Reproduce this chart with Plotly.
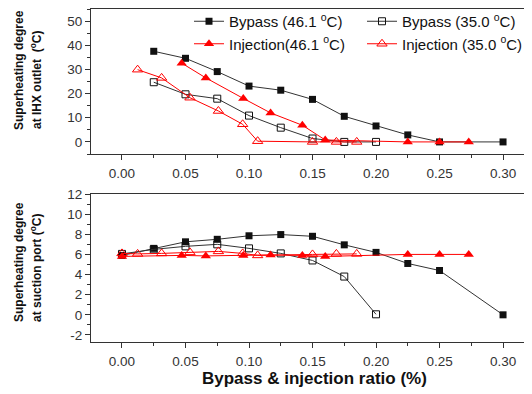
import plotly.graph_objects as go

# ---- data ----
bp46_x_top = [0.025, 0.05, 0.075, 0.10, 0.125, 0.15, 0.175, 0.20, 0.225, 0.25, 0.30]
bp46_y_top = [37.5, 34.6, 29.1, 23.1, 21.4, 17.6, 10.6, 6.6, 2.9, 0.0, 0.0]
bp35_x_top = [0.025, 0.05, 0.075, 0.10, 0.125, 0.15, 0.175, 0.20]
bp35_y_top = [24.7, 19.7, 17.9, 10.9, 5.9, 1.4, 0.0, 0.0]
inj46_x_top = [0.047, 0.066, 0.0955, 0.117, 0.142, 0.160, 0.225, 0.25, 0.273]
inj46_y_top = [32.6, 26.5, 18.0, 12.0, 6.9, 0.8, 0.0, 0.0, 0.0]
inj35_x_top = [0.0123, 0.0312, 0.0535, 0.0759, 0.095, 0.1068, 0.15, 0.1688, 0.1848]
inj35_y_top = [29.9, 26.5, 18.3, 12.8, 7.3, 0.3, 0.0, 0.0, 0.0]

bp46_x_bot = [0.0, 0.025, 0.05, 0.075, 0.10, 0.125, 0.15, 0.175, 0.20, 0.225, 0.25, 0.30]
bp46_y_bot = [5.9, 6.6, 7.25, 7.5, 7.85, 7.97, 7.8, 6.95, 6.2, 5.1, 4.4, 0.0]
bp35_x_bot = [0.0, 0.025, 0.05, 0.075, 0.10, 0.125, 0.15, 0.175, 0.20]
bp35_y_bot = [6.05, 6.5, 6.8, 7.0, 6.6, 6.1, 5.4, 3.8, 0.05]
inj46_x_bot = [0.0, 0.047, 0.066, 0.0955, 0.117, 0.142, 0.160, 0.225, 0.25, 0.273]
inj46_y_bot = [5.8, 5.9, 5.85, 5.9, 5.95, 5.9, 5.8, 6.0, 6.0, 6.0]
inj35_x_bot = [0.0, 0.0123, 0.0312, 0.0535, 0.0759, 0.095, 0.1068, 0.15, 0.1688, 0.1848]
inj35_y_bot = [6.1, 6.05, 6.1, 6.2, 6.3, 6.1, 5.9, 6.0, 6.05, 6.05]

names = ["Bypass (46.1 <sup>o</sup>C)", "Bypass (35.0 <sup>o</sup>C)",
         "Injection(46.1 <sup>o</sup>C)", "Injection (35.0 <sup>o</sup>C)"]
x_ticks = [0.0, 0.05, 0.10, 0.15, 0.20, 0.25, 0.30]
x_ticktext = ["0.00", "0.05", "0.10", "0.15", "0.20", "0.25", "0.30"]
top_yticks = [0, 10, 20, 30, 40, 50]
bot_yticks = [-2, 0, 2, 4, 6, 8, 10, 12]

BLACK = "#111111"
LINE_BLACK = "#333333"
RED = "#ff0000"
FONT = "Arial, Liberation Sans, sans-serif"

styles = [
    dict(line=dict(color=LINE_BLACK, width=1), marker=dict(symbol="square", size=7, color=BLACK)),
    dict(line=dict(color=LINE_BLACK, width=1), marker=dict(symbol="square-open", size=7, color=BLACK, line=dict(width=1))),
    dict(line=dict(color=RED, width=1), marker=dict(symbol="triangle-up", size=9, color=RED)),
    dict(line=dict(color=RED, width=1), marker=dict(symbol="triangle-up-open", size=9, color=RED, line=dict(width=1))),
]

fig = go.Figure()
top = [(bp46_x_top, bp46_y_top), (bp35_x_top, bp35_y_top), (inj46_x_top, inj46_y_top), (inj35_x_top, inj35_y_top)]
bot = [(bp46_x_bot, bp46_y_bot), (bp35_x_bot, bp35_y_bot), (inj46_x_bot, inj46_y_bot), (inj35_x_bot, inj35_y_bot)]
for i, (xs, ys) in enumerate(top):
    fig.add_trace(go.Scatter(x=xs, y=ys, mode="lines+markers", name=names[i],
                             xaxis="x", yaxis="y", **styles[i]))
for i, (xs, ys) in enumerate(bot):
    fig.add_trace(go.Scatter(x=xs, y=ys, mode="lines+markers", name=names[i], showlegend=False,
                             xaxis="x2", yaxis="y2", **styles[i]))

# page is offset by 8px (body margin); positions below are given in page pixels and converted
OFF = 8.0
H = 394.0
W = 532.0
L = 91.0 - OFF
R = OFF
PW = W - L - R


def px_x(page_x):
    return (page_x - OFF - L) / PW


def px_y(page_y):
    return (H - (page_y - OFF)) / H


tickfont = dict(family=FONT, size=13.5, color="#333333")
axcommon = dict(showline=True, linecolor="#333333", linewidth=1, ticks="outside", ticklen=5,
                tickcolor="#333333", showgrid=False, zeroline=False, tickfont=tickfont, automargin=False)
xrange_ = [-0.0244, 0.3228]
minor_x = dict(dtick=0.025, tick0=0, ticks="outside", ticklen=3, tickcolor="#333333")

fig.update_layout(
    width=532, height=394,
    margin=dict(l=L, r=R, t=0, b=0, autoexpand=False),
    paper_bgcolor="white", plot_bgcolor="white",
    xaxis=dict(domain=[0, 1.0], anchor="y", range=xrange_, tickvals=x_ticks, ticktext=x_ticktext,
               mirror=True, minor=minor_x, ticklabelstandoff=2, **axcommon),
    yaxis=dict(domain=[px_y(154), px_y(9)], anchor="x", range=[-5, 55], tickvals=top_yticks,
               minor=dict(dtick=5, tick0=0, ticks="outside", ticklen=3, tickcolor="#333333"), **axcommon),
    xaxis2=dict(domain=[0, 1.0], anchor="y2", range=xrange_, tickvals=x_ticks, ticktext=x_ticktext,
                mirror=True, minor=minor_x, ticklabelstandoff=2, **axcommon),
    yaxis2=dict(domain=[px_y(342), px_y(194)], anchor="x2", range=[-2.7, 12], tickvals=bot_yticks,
                ticktext=[str(v) for v in bot_yticks],
                minor=dict(dtick=1, tick0=0, ticks="outside", ticklen=3, tickcolor="#333333"), **axcommon),
    showlegend=True,
    legend=dict(orientation="h", x=px_x(189), xanchor="left", y=px_y(5), yanchor="top",
                entrywidth=128, entrywidthmode="pixels", bgcolor="rgba(0,0,0,0)",
                font=dict(family=FONT, size=15, color="#111111"),
                tracegroupgap=0, itemwidth=30),
)

ytitles = [
    ("<b>Superheating degree</b>", 19, 70),
    ("<b>at IHX outlet  (<sup>o</sup>C)</b>", 36, 80),
    ("<b>Superheating degree</b>", 19, 262),
    ("<b>at suction port (<sup>o</sup>C)</b>", 36, 268),
]
for txt, xp, yp in ytitles:
    fig.add_annotation(text=txt, textangle=-90, x=px_x(xp), y=px_y(yp), xref="paper", yref="paper",
                       showarrow=False, xanchor="center", yanchor="middle",
                       font=dict(family=FONT, size=12, color="#111111"))
fig.add_annotation(text="<b>Bypass & injection ratio (%)</b>", x=px_x(314), y=px_y(378),
                   xref="paper", yref="paper", showarrow=False, xanchor="center", yanchor="middle",
                   font=dict(family=FONT, size=17, color="#111111"))

fig.write_html("out.html")
